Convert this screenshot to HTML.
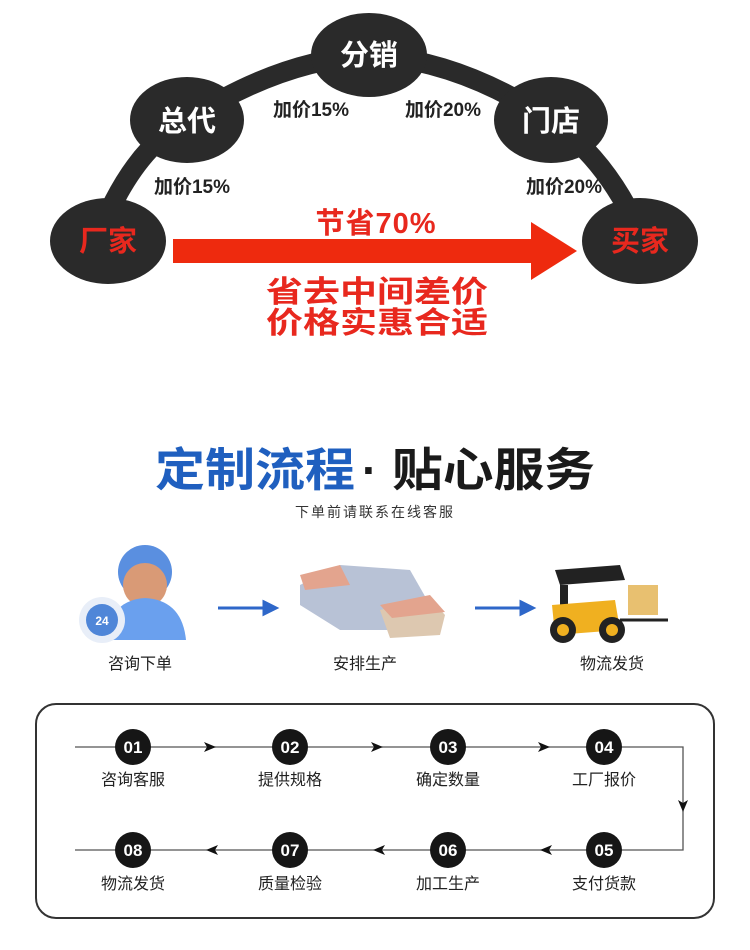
<!DOCTYPE html>
<html><head><meta charset="utf-8"><style>
html,body{margin:0;padding:0;background:#fff;width:750px;height:950px;overflow:hidden}
svg{display:block}
text{font-family:"Liberation Sans","Noto Sans CJK SC",sans-serif}
</style></head><body>
<svg width="750" height="950" viewBox="0 0 750 950">
<!-- top arc -->
<path d="M95,245 Q130,150 187,120 Q280,60 369,55 Q460,60 550,120 Q610,160 645,245" fill="none" stroke="#2a2a2a" stroke-width="20"/>
<g fill="#2a2a2a">
<ellipse cx="108" cy="241" rx="58" ry="43"/>
<ellipse cx="187" cy="120" rx="57" ry="43"/>
<ellipse cx="369" cy="55" rx="58" ry="42"/>
<ellipse cx="551" cy="120" rx="57" ry="43"/>
<ellipse cx="640" cy="241" rx="58" ry="43"/>
</g>
<g font-weight="bold" font-size="29" text-anchor="middle">
<text x="108" y="251" fill="#e8281e">厂家</text>
<text x="187" y="131" fill="#fff">总代</text>
<text x="369" y="65" fill="#fff">分销</text>
<text x="551" y="131" fill="#fff">门店</text>
<text x="640" y="251" fill="#e8281e">买家</text>
</g>
<g font-weight="bold" font-size="19" fill="#222" text-anchor="middle">
<text x="192" y="193">加价15%</text>
<text x="311" y="116">加价15%</text>
<text x="443" y="116">加价20%</text>
<text x="564" y="193">加价20%</text>
</g>
<text x="376" y="233" font-size="29" font-weight="bold" fill="#e8281e" text-anchor="middle" letter-spacing="1">节省70%</text>
<path d="M173,239 L531,239 L531,222 L577,251 L531,280 L531,263 L173,263 Z" fill="#ee2a0e"/>
<g font-size="30" font-weight="bold" fill="#e8281e">
<text x="266" y="302" textLength="222" lengthAdjust="spacingAndGlyphs">省去中间差价</text>
<text x="266" y="333" textLength="222" lengthAdjust="spacingAndGlyphs">价格实惠合适</text>
</g>
<!-- title -->
<text x="155" y="486" font-size="46" font-weight="bold" fill="#1f5fbf" textLength="200" lengthAdjust="spacingAndGlyphs">定制流程</text>
<text x="362" y="486" font-size="46" font-weight="bold" fill="#1a1a1a">·</text>
<text x="392" y="486" font-size="46" font-weight="bold" fill="#1a1a1a" textLength="203" lengthAdjust="spacingAndGlyphs">贴心服务</text>
<text x="375" y="517" font-size="14" fill="#333" text-anchor="middle" letter-spacing="2">下单前请联系在线客服</text>
<!-- icons: person -->
<circle cx="145" cy="572" r="27" fill="#5a8fe0"/>
<ellipse cx="145" cy="585" rx="22" ry="22" fill="#d99a76"/>
<path d="M105,640 Q110,600 145,598 Q182,600 186,640 Z" fill="#6aa0ee"/>
<circle cx="102" cy="620" r="23" fill="#e8eef8"/>
<circle cx="102" cy="620" r="16" fill="#4f86d8"/>
<text x="102" y="625" font-size="12" font-weight="bold" fill="#fff" text-anchor="middle">24</text>
<!-- factory -->
<path d="M300,585 L340,565 L410,570 L430,605 L400,630 L340,630 L300,605 Z" fill="#b8c2d6"/>
<path d="M300,575 L340,565 L350,585 L305,590 Z" fill="#e3a48e"/>
<path d="M380,610 L430,598 L445,615 L440,635 L390,638 Z" fill="#ddc8b0"/>
<path d="M380,605 L430,595 L445,612 L392,618 Z" fill="#e3a48e"/>
<!-- forklift -->
<path d="M555,570 L620,565 L625,580 L560,585 Z" fill="#222"/>
<rect x="560" y="585" width="8" height="35" fill="#222"/>
<path d="M552,605 L615,600 L620,630 L555,635 Z" fill="#f0b020"/>
<rect x="628" y="585" width="30" height="30" fill="#e8c070"/>
<circle cx="563" cy="630" r="13" fill="#222"/><circle cx="563" cy="630" r="6" fill="#f0b020"/>
<circle cx="612" cy="630" r="13" fill="#222"/><circle cx="612" cy="630" r="6" fill="#f0b020"/>
<path d="M620,620 L668,620" stroke="#222" stroke-width="3"/>
<!-- blue arrows -->
<g stroke="#2e67c9" stroke-width="3" fill="#2e67c9">
<line x1="218" y1="608" x2="266" y2="608"/><path d="M264,602 L276,608 L264,614 Z"/>
<line x1="475" y1="608" x2="523" y2="608"/><path d="M521,602 L533,608 L521,614 Z"/>
</g>
<g font-size="16" fill="#222" text-anchor="middle">
<text x="140" y="669">咨询下单</text>
<text x="365" y="669">安排生产</text>
<text x="612" y="669">物流发货</text>
</g>
<!-- process box -->
<rect x="36" y="704" width="678" height="214" rx="20" fill="none" stroke="#333" stroke-width="2"/>
<path d="M75,747 L683,747 L683,850 L75,850" fill="none" stroke="#555" stroke-width="1.3"/>
<g fill="#111">
<path d="M204,742 L216,747 L204,752 L207,747 Z"/>
<path d="M371,742 L383,747 L371,752 L374,747 Z"/>
<path d="M538,742 L550,747 L538,752 L541,747 Z"/>
<path d="M678,800 L683,812 L688,800 L683,803 Z"/>
<path d="M552,845 L540,850 L552,855 L549,850 Z"/>
<path d="M385,845 L373,850 L385,855 L382,850 Z"/>
<path d="M218,845 L206,850 L218,855 L215,850 Z"/>
</g>
<g fill="#161616">
<circle cx="133" cy="747" r="18"/><circle cx="290" cy="747" r="18"/><circle cx="448" cy="747" r="18"/><circle cx="604" cy="747" r="18"/>
<circle cx="133" cy="850" r="18"/><circle cx="290" cy="850" r="18"/><circle cx="448" cy="850" r="18"/><circle cx="604" cy="850" r="18"/>
</g>
<g font-size="17" font-weight="bold" fill="#fff" text-anchor="middle">
<text x="133" y="753">01</text><text x="290" y="753">02</text><text x="448" y="753">03</text><text x="604" y="753">04</text>
<text x="133" y="856">08</text><text x="290" y="856">07</text><text x="448" y="856">06</text><text x="604" y="856">05</text>
</g>
<g font-size="16" fill="#222" text-anchor="middle">
<text x="133" y="785">咨询客服</text><text x="290" y="785">提供规格</text><text x="448" y="785">确定数量</text><text x="604" y="785">工厂报价</text>
<text x="133" y="889">物流发货</text><text x="290" y="889">质量检验</text><text x="448" y="889">加工生产</text><text x="604" y="889">支付货款</text>
</g>
</svg>
</body></html>
